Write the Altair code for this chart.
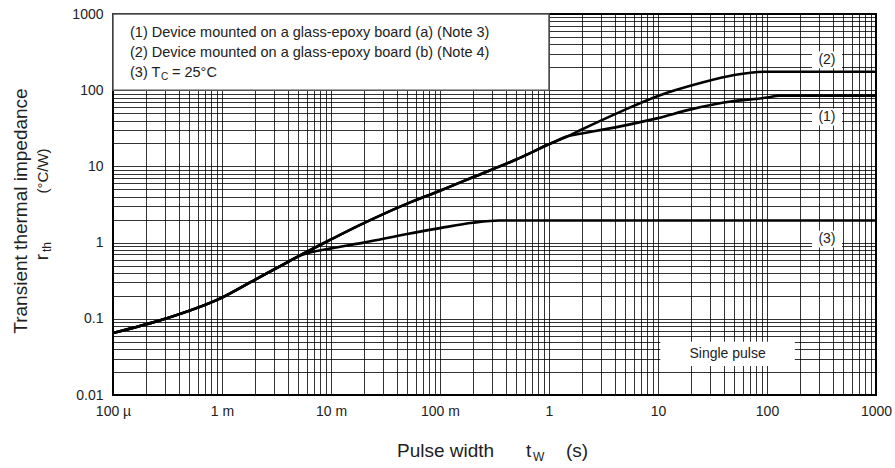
import altair as alt
import pandas as pd

FONT = "Liberation Sans"

# ---- data ----
# part shared by all three curves
t_common = [1e-4, 3e-4, 1e-3, 2e-3, 3.6e-3, 5e-3]
r_common = [0.065, 0.10, 0.19, 0.325, 0.51, 0.66]

# curves (1) and (2) run together until ~1.5 s
t_12 = [1e-2, 2e-2, 5e-2, 0.1, 0.2, 0.5, 1.0, 1.5]
r_12 = [1.1, 1.8, 3.25, 4.8, 7.2, 12.3, 19.5, 25.0]

# (1) glass-epoxy board (a)
t_1 = [2, 4.5, 10, 20, 50, 100, 130, 1000]
r_1 = [27, 33.5, 43, 56, 72, 80, 85, 85]

# (2) glass-epoxy board (b)
t_2 = [2, 4.5, 10, 24, 50, 100, 1000]
r_2 = [30.5, 52, 84, 123, 158, 175, 175]

# (3) Tc = 25 C
t_3 = [1e-2, 2e-2, 5e-2, 0.1, 0.2, 0.35, 1000]
r_3 = [0.84, 1.0, 1.3, 1.55, 1.82, 1.95, 1.95]

x_decades = [1e-4, 1e-3, 1e-2, 0.1, 1, 10, 100, 1000]
x_labels = ["100 µ", "1 m", "10 m", "100 m", "1", "10", "100", "1000"]
y_decades = [0.01, 0.1, 1, 10, 100, 1000]
y_labels = ["0.01", "0.1", "1", "10", "100", "1000"]

legend_lines = [
    "(1) Device mounted on a glass-epoxy board (a) (Note 3)",
    "(2) Device mounted on a glass-epoxy board (b) (Note 4)",
]
curve_names = ["(1)", "(2)", "(3)"]
curve_label_t = [355, 355, 355]
curve_label_r = [44.5, 250, 1.11]

# ---- tables ----
rows = []
for name, ts, rs in [
    ("(1)", t_common + t_12 + t_1, r_common + r_12 + r_1),
    ("(2)", t_common + t_12 + t_2, r_common + r_12 + r_2),
    ("(3)", t_common + t_3, r_common + r_3),
]:
    for t, r in zip(ts, rs):
        rows.append({"series": name, "t": t, "r": r})
df = pd.DataFrame(rows)

x_grid = [d * m for d in x_decades[:-1] for m in range(1, 10)] + [x_decades[-1]]
y_grid = [d * m for d in y_decades[:-1] for m in range(1, 10)] + [y_decades[-1]]


def label_expr(vals, labs):
    expr = ""
    for v, l in zip(vals, labs):
        expr += f"datum.value == {float(v)!r} ? '{l}' : "
    return expr + "''"


xscale = alt.Scale(type="log", domain=[x_decades[0], x_decades[-1]], nice=False)
yscale = alt.Scale(type="log", domain=[y_decades[0], y_decades[-1]], nice=False)

grid_style = dict(grid=True, gridColor="#000000", gridOpacity=0.8, gridWidth=1,
                  ticks=False, domain=False, title=None, labelOverlap=False,
                  labelFlush=False, labelFont=FONT, labelFontSize=14,
                  labelColor="#222")
xaxis = alt.Axis(values=x_grid, labelExpr=label_expr(x_decades, x_labels),
                 labelPadding=9, **grid_style)
yaxis = alt.Axis(values=y_grid, labelExpr=label_expr(y_decades, y_labels),
                 labelPadding=10, **grid_style)

X = lambda f="t": alt.X(f"{f}:Q", scale=xscale, axis=xaxis)
Y = lambda f="r": alt.Y(f"{f}:Q", scale=yscale, axis=yaxis)

lines = alt.Chart(df).mark_line(color="black", strokeWidth=2.6,
                                interpolate="monotone").encode(
    x=X(), y=Y(), detail="series:N")

# legend box (white, covers the grid), spans 100u..1 s and 100..1000
box_df = pd.DataFrame({"t": [x_decades[0]], "t2": [x_decades[4]],
                       "r": [y_decades[4]], "r2": [y_decades[5]]})
legend_box = alt.Chart(box_df).mark_rect(fill="white", stroke="#555",
                                         strokeWidth=1.5).encode(
    x=X(), x2="t2", y=Y(), y2="r2")

sp_df = pd.DataFrame({"t": [10.5], "t2": [180], "r": [0.024], "r2": [0.05]})
sp_box = alt.Chart(sp_df).mark_rect(fill="white").encode(
    x=X(), x2="t2", y=Y(), y2="r2")
sp_text = alt.Chart(pd.DataFrame({"t": [43.5], "r": [0.0345],
                                  "txt": ["Single pulse"]})).mark_text(
    font=FONT, fontSize=14, color="#222").encode(x=X(), y=Y(), text="txt:N")

lab_df = pd.DataFrame({"t": curve_label_t, "r": curve_label_r,
                       "txt": curve_names})
lab_box = alt.Chart(lab_df).mark_rect(fill="white", width=30, height=17).encode(
    x=X(), y=Y())
lab_text = alt.Chart(lab_df).mark_text(font=FONT, fontSize=14,
                                       color="#222").encode(
    x=X(), y=Y(), text="txt:N")


def txt(s, x, y, size, angle=0, align="left"):
    return alt.Chart(pd.DataFrame({"s": [s]})).mark_text(
        font=FONT, fontSize=size, color="#222", align=align,
        baseline="middle", angle=angle).encode(
        x=alt.value(x), y=alt.value(y), text="s:N")


# positions relative to the plot area origin (113, 14)
legend_text = [
    txt(legend_lines[0], 17, 19, 14.5),
    txt(legend_lines[1], 17, 39, 14.5),
    txt("(3) T", 17, 59, 14.5),
    txt("C", 48, 63, 10),
    txt("= 25°C", 59, 59, 14.5),
]
titles = [
    txt("Pulse width", 284, 437, 19),
    txt("t", 413, 437, 19),
    txt("W", 420, 443, 12),
    txt("(s)", 453, 437, 19),
    txt("Transient thermal impedance", -92, 197, 19, angle=270, align="center"),
    txt("(°C/W)", -70, 157, 15, angle=270, align="center"),
    txt("r", -71, 243, 19, angle=270, align="center"),
    txt("th", -66, 233, 12, angle=270, align="center"),
]

chart = alt.layer(
    lines, legend_box, sp_box, sp_text, lab_box, lab_text,
    *legend_text, *titles
).properties(
    width=763, height=381,
    padding={"left": 113, "top": 14, "right": 19, "bottom": 73},
    autosize="none", background="white",
).configure_view(stroke="black", strokeWidth=2)

chart.save("out.html", embed_options={"renderer": "svg", "actions": False})
